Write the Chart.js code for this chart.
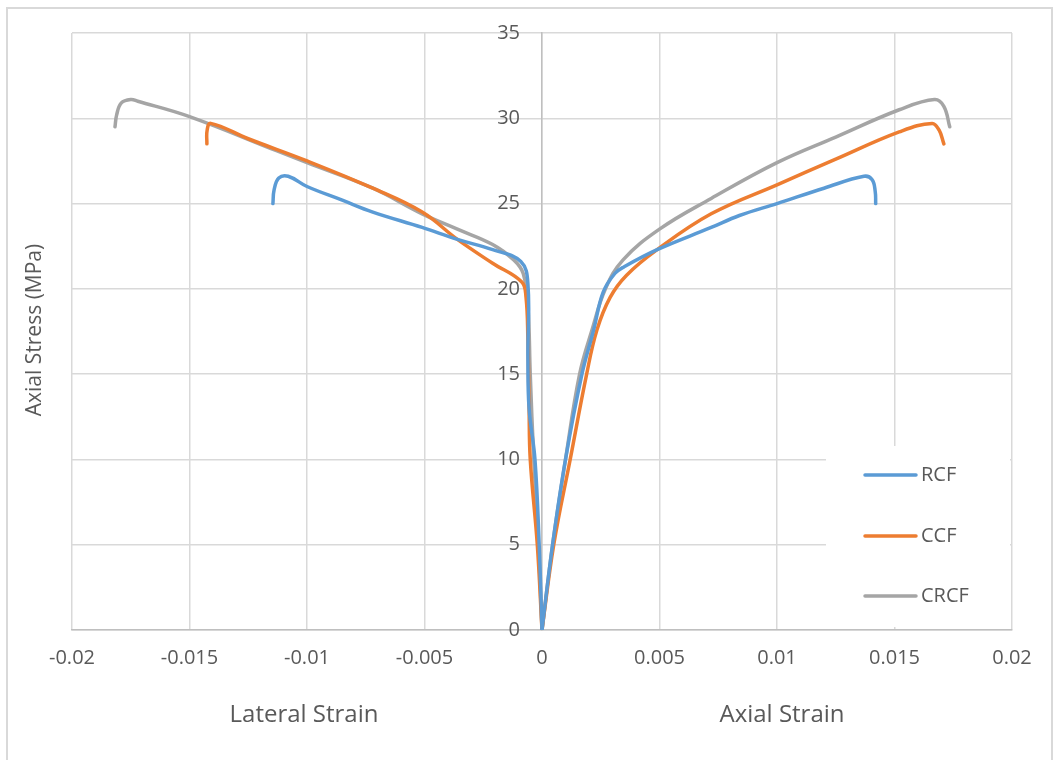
<!DOCTYPE html>
<html>
<head>
<meta charset="utf-8">
<script src="https://cdn.jsdelivr.net/npm/chart.js@4.4.1/dist/chart.umd.min.js"></script>
<style>
  html, body { margin: 0; padding: 0; background: #fff; }
  #wrap { width: 1060px; height: 760px; }
</style>
</head>
<body>
<div id="wrap"><canvas id="c" width="1060" height="760"></canvas></div>
<script>
// series names + colours
const seriesNames = ['RCF', 'CCF', 'CRCF'];
const seriesColors = ['#5B9BD5', '#ED7D31', '#A5A5A5'];

// RCF
const rcfAxX = [0, 0.00045, 0.001, 0.0017, 0.0022, 0.0026, 0.0031, 0.0035, 0.0049, 0.0072, 0.0084, 0.01, 0.012, 0.0137, 0.01405, 0.01418, 0.0142];
const rcfAxY = [0, 5, 10, 15, 17.6, 19.8, 20.9, 21.3, 22.3, 23.6, 24.3, 25.0, 25.9, 26.6, 26.4, 25.7, 25.0];
const rcfLatX = [0, -0.00012, -0.0003, -0.00055, -0.0006, -0.0006, -0.0009, -0.0021, -0.0036, -0.0051, -0.0072, -0.0085, -0.01, -0.0108, -0.0112, -0.0114, -0.01145];
const rcfLatY = [0, 5, 10, 13, 16, 20.3, 21.6, 22.3, 22.9, 23.6, 24.5, 25.2, 26.0, 26.6, 26.5, 25.8, 25.0];

// CCF
const ccfAxX = [0, 0.0005, 0.0012, 0.0019, 0.00234, 0.0029, 0.0036, 0.0049, 0.0072, 0.01, 0.0125, 0.0152, 0.0166, 0.0169, 0.0171];
const ccfAxY = [0, 5, 10, 15, 17.6, 19.5, 20.8, 22.3, 24.4, 26.1, 27.6, 29.2, 29.7, 29.3, 28.5];
const ccfLatX = [0, -0.0002, -0.0005, -0.00055, -0.0006, -0.00068, -0.00086, -0.0021, -0.0036, -0.0051, -0.0072, -0.01, -0.0125, -0.0141, -0.01425, -0.01426];
const ccfLatY = [0, 5, 10, 13, 17, 19.5, 20.4, 21.5, 22.9, 24.5, 25.9, 27.5, 28.8, 29.7, 29.3, 28.5];

// CRCF
const crcfAxX = [0, 0.00045, 0.001, 0.0016, 0.00213, 0.0027, 0.00345, 0.005, 0.0072, 0.01, 0.0125, 0.0152, 0.0167, 0.0171, 0.01735];
const crcfAxY = [0, 5, 10, 15, 17.6, 20, 21.7, 23.5, 25.3, 27.4, 28.9, 30.5, 31.1, 30.7, 29.5];
const crcfLatX = [0, -0.00015, -0.00035, -0.0005, -0.0006, -0.0008, -0.0012, -0.0021, -0.0036, -0.0051, -0.0072, -0.01, -0.0113, -0.015, -0.0172, -0.0175, -0.0179, -0.0181, -0.01817];
const crcfLatY = [0, 5, 10, 15, 19, 20.9, 21.7, 22.6, 23.5, 24.4, 25.9, 27.4, 28.1, 30.1, 31.0, 31.1, 30.9, 30.2, 29.5];

// axis ticks
const xTicks = [-0.02, -0.015, -0.01, -0.005, 0, 0.005, 0.01, 0.015, 0.02];
const yTicks = [0, 5, 10, 15, 20, 25, 30, 35];

const TXT = '#595959';
const FONT = '"Open Sans", sans-serif';

function pts(xs, ys){
  return xs.map((x, i) => ({x, y: ys[i]}));
}

function lineSet(idx, xs, ys){
  return {
    label: seriesNames[idx],
    data: pts(xs, ys),
    showLine: true,
    borderColor: seriesColors[idx],
    backgroundColor: seriesColors[idx],
    borderWidth: 3.5,
    pointRadius: 0,
    tension: 0.4,
    borderCapStyle: 'round',
    fill: false
  };
}

// draw order: lateral + axial of each series
const datasets = [
  lineSet(0, rcfLatX, rcfLatY), lineSet(0, rcfAxX, rcfAxY),
  lineSet(1, ccfLatX, ccfLatY), lineSet(1, ccfAxX, ccfAxY),
  lineSet(2, crcfLatX, crcfLatY), lineSet(2, crcfAxX, crcfAxY)
];

// frame, y labels beside the middle axis, titles and legend box
const decor = {
  id: 'decor',
  beforeDraw(chart){
    const ctx = chart.ctx;
    ctx.save();
    ctx.fillStyle = '#fff';
    ctx.fillRect(0, 0, chart.width, chart.height);
    ctx.strokeStyle = '#d9d9d9';
    ctx.lineWidth = 2;
    ctx.strokeRect(7, 8, 1045, 800);
    ctx.restore();
  },
  afterDraw(chart){
    const ctx = chart.ctx;
    const xs = chart.scales.x, ysc = chart.scales.y;
    const x0 = xs.getPixelForValue(0);

    // y tick labels, left of the zero line
    ctx.save();
    ctx.fillStyle = TXT;
    ctx.font = '20px ' + FONT;
    ctx.textAlign = 'right';
    ctx.textBaseline = 'middle';
    yTicks.forEach(v => ctx.fillText(String(v), x0 - 22, ysc.getPixelForValue(v)));
    ctx.restore();

    ctx.save();
    ctx.fillStyle = TXT;
    ctx.font = '24px ' + FONT;
    ctx.textAlign = 'center';
    ctx.textBaseline = 'middle';
    ctx.fillText('Lateral Strain', 304, 715);
    ctx.fillText('Axial Strain', 782, 715);
    ctx.font = '21px ' + FONT;
    ctx.translate(35, 330);
    ctx.rotate(-Math.PI / 2);
    ctx.fillText('Axial Stress (MPa)', 0, 0);
    ctx.restore();

    // legend
    ctx.save();
    ctx.fillStyle = '#fff';
    ctx.fillRect(826, 446, 184, 181);
    const ly = [475, 536, 596];
    seriesNames.forEach((n, i) => {
      ctx.strokeStyle = seriesColors[i];
      ctx.lineWidth = 3.5;
      ctx.lineCap = 'round';
      ctx.beginPath();
      ctx.moveTo(865, ly[i]);
      ctx.lineTo(916, ly[i]);
      ctx.stroke();
      ctx.fillStyle = TXT;
      ctx.font = '20px ' + FONT;
      ctx.textAlign = 'left';
      ctx.textBaseline = 'middle';
      ctx.fillText(n, 921, ly[i]);
    });
    ctx.restore();
  }
};

new Chart(document.getElementById('c'), {
  type: 'scatter',
  data: { datasets },
  options: {
    responsive: false,
    animation: false,
    layout: { padding: { left: 72, right: 48, top: 33, bottom: 0 } },
    plugins: { legend: { display: false }, tooltip: { enabled: false } },
    scales: {
      x: {
        type: 'linear',
        min: -0.02, max: 0.02,
        afterBuildTicks: s => { s.ticks = xTicks.map(v => ({value: v})); },
        afterFit: s => { s.height = 130; },
        ticks: {
          color: TXT,
          font: { family: FONT, size: 20 },
          padding: 16,
          maxRotation: 0,
          callback: v => String(Math.round(v * 1000) / 1000)
        },
        grid: { color: '#d9d9d9', lineWidth: 1.5, drawTicks: false },
        border: { color: '#bfbfbf', width: 1.5 }
      },
      y: {
        position: { x: 0 },
        min: 0, max: 35,
        afterBuildTicks: s => { s.ticks = yTicks.map(v => ({value: v})); },
        ticks: { display: false },
        grid: { color: '#d9d9d9', lineWidth: 1.5, drawTicks: false },
        border: { color: '#bfbfbf', width: 1.5 }
      }
    }
  },
  plugins: [decor]
});
</script>
</body>
</html>
